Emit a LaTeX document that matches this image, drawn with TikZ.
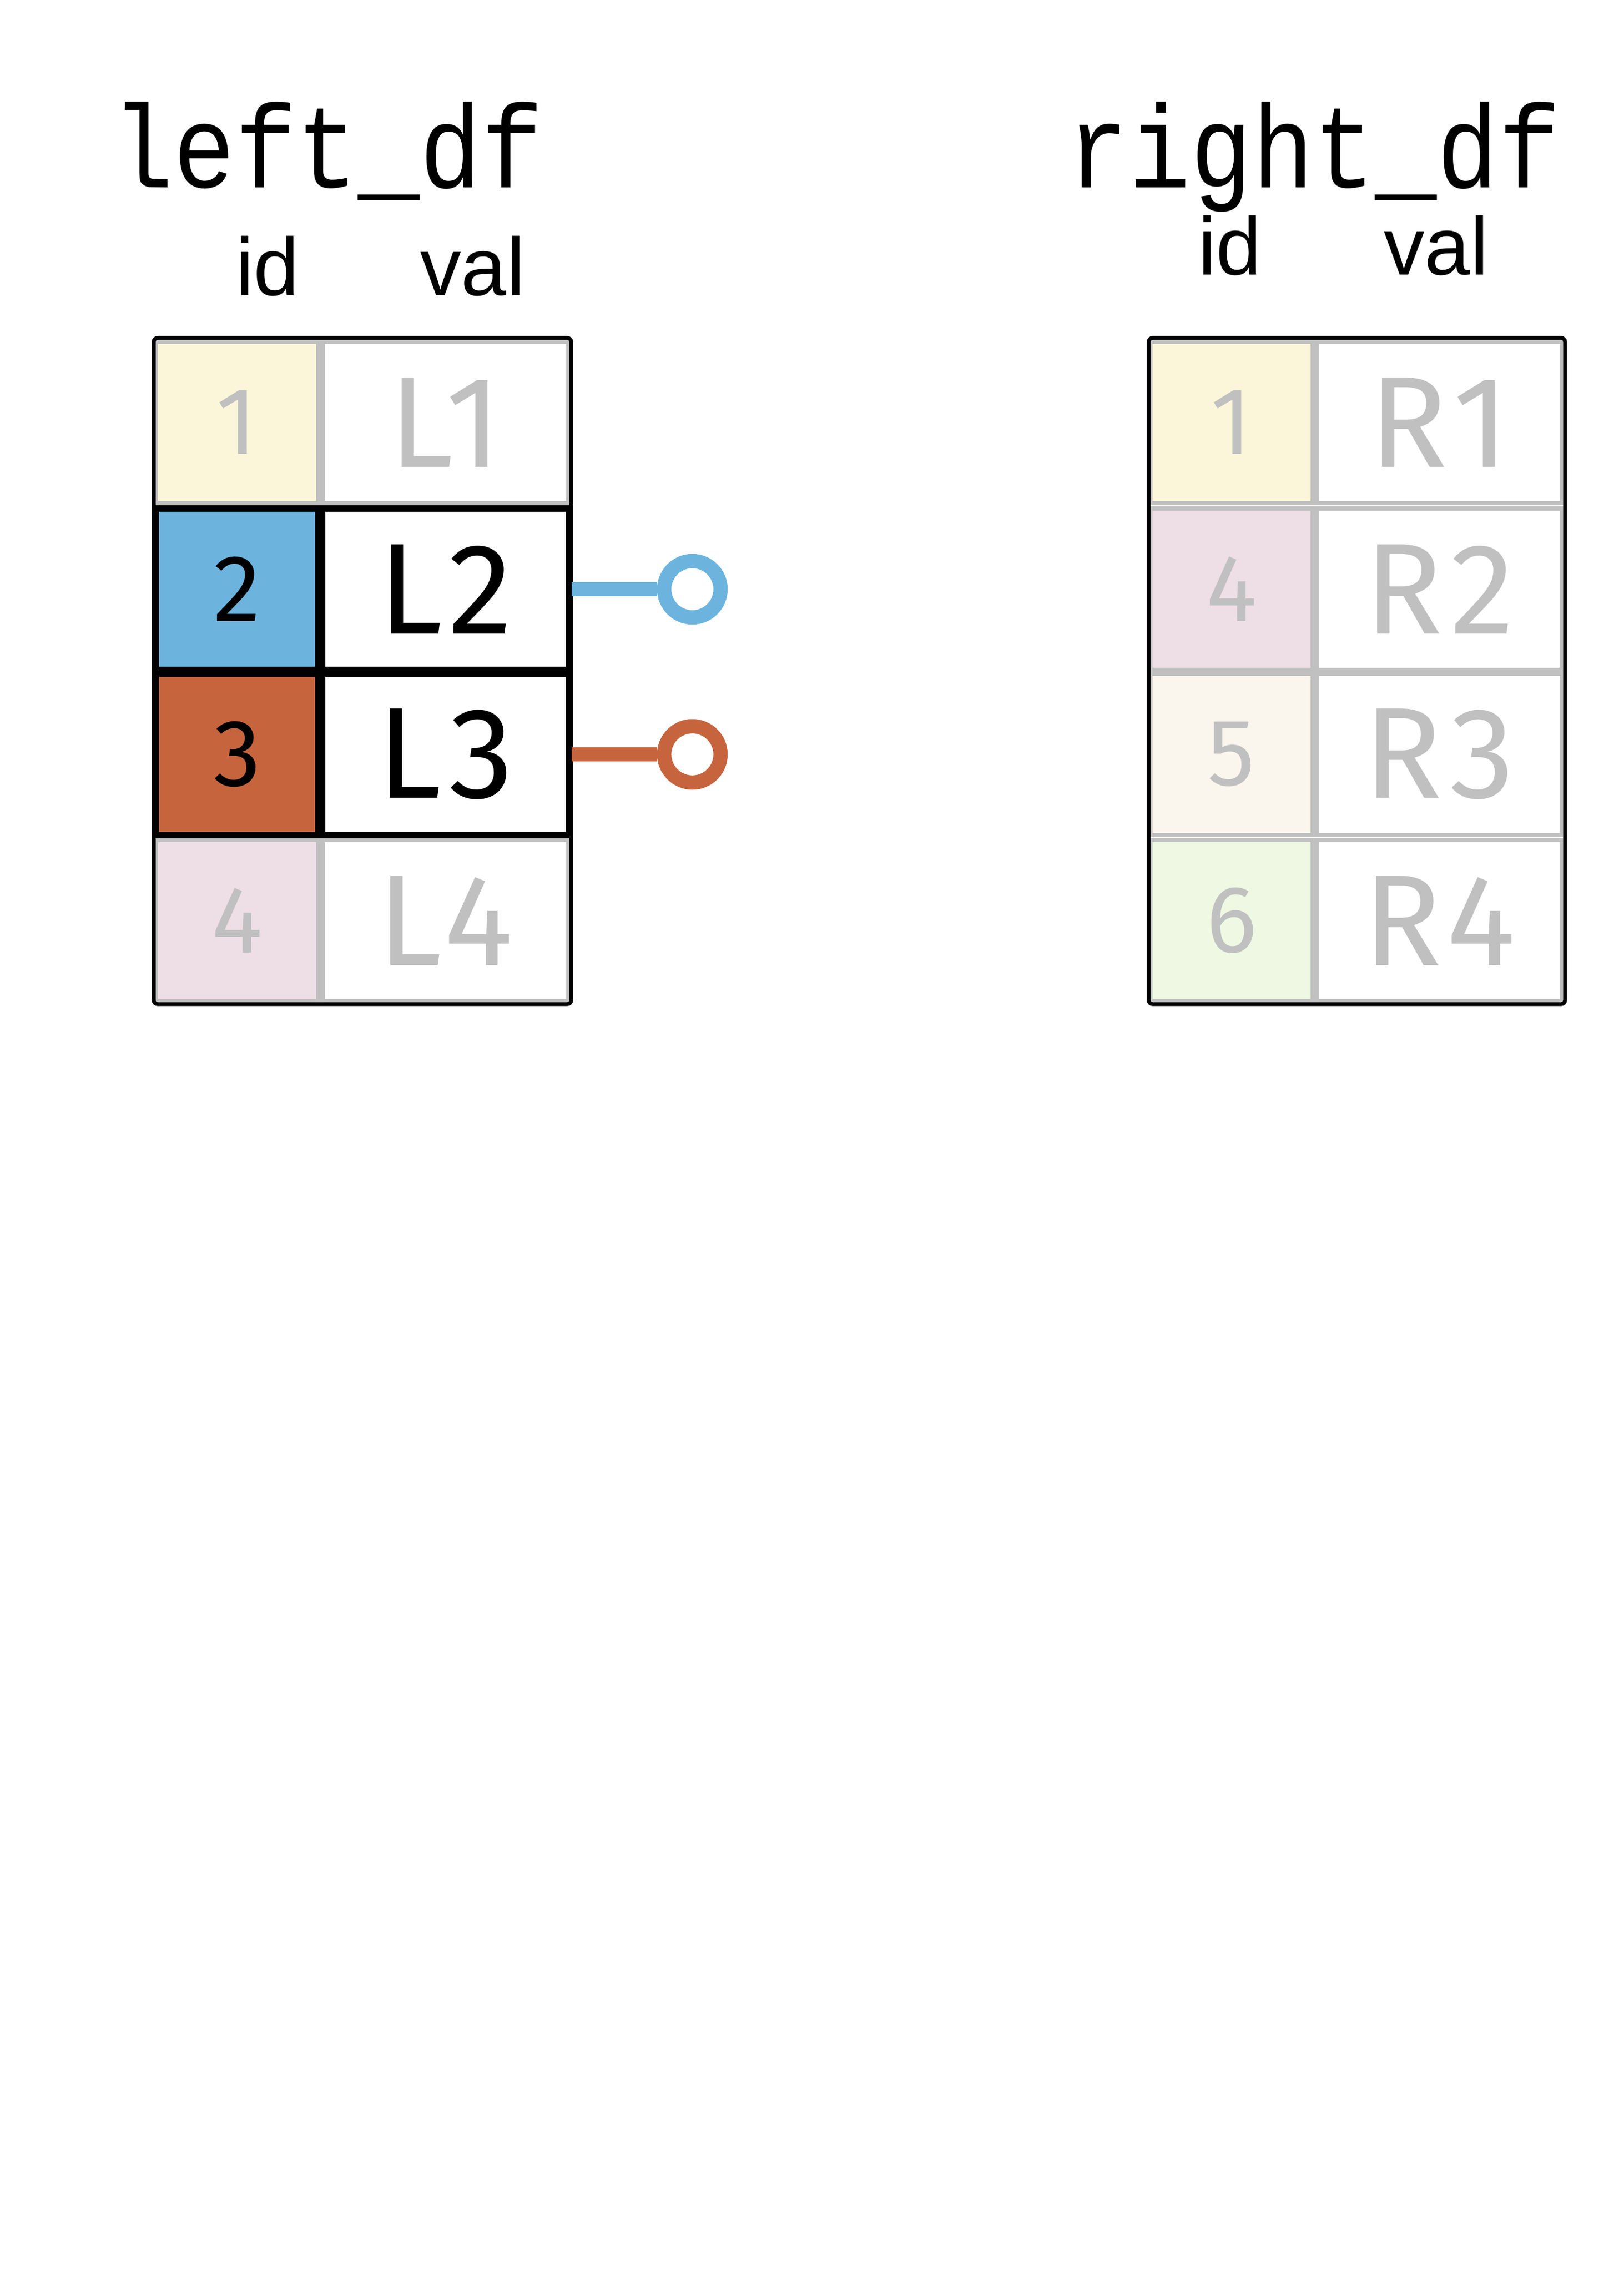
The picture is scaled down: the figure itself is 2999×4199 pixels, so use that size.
\documentclass[tikz,border=0pt]{standalone}
\usepackage{fontspec}
\setmainfont{Liberation Sans}
\newfontfamily\titlefont{Liberation Mono}
\newfontfamily\cellfont[LetterSpace=6]{Fira Sans}
\definecolor{gr}{HTML}{C0C0C0}
\definecolor{cyel}{HTML}{FBF6D9}
\definecolor{cpink}{HTML}{EEDEE6}
\definecolor{cblue}{HTML}{6CB4DE}
\definecolor{corange}{HTML}{C6653D}
\definecolor{ccream}{HTML}{FAF6EE}
\definecolor{cgreen}{HTML}{EEF8E2}
\tikzset{
  idcell/.style={draw=gr, line width=2.4pt, minimum width=3.0cm, minimum height=2.98cm, inner sep=0pt, font=\cellfont\fontsize{50}{50}\selectfont, text=gr},
  valcell/.style={draw=gr, line width=2.4pt, minimum width=4.55cm, minimum height=2.98cm, inner sep=0pt, font=\cellfont\fontsize{68}{68}\selectfont, text=gr},
  hl/.style={draw=black, line width=3.2pt, text=black},
  outer/.style={draw=black, line width=2pt, rounded corners=2pt},
  ttl/.style={font=\titlefont\fontsize{54}{54}\selectfont, anchor=base, yscale=1.15},
  hdr/.style={font=\fontsize{43}{43}\selectfont, anchor=base},
  conn/.style={line width=7.5pt},
  dot/.style={circle, line width=7.5pt, minimum size=1.04cm, inner sep=0pt, fill=white},
}
\begin{document}
\begin{tikzpicture}[x=0.01cm, y=-0.01cm]
\useasboundingbox (0,0) rectangle (2999,4199);
% titles
\node[ttl] (lt) at (605,346) {left\_df};
\node[ttl] (rt) at (2427,346) {right\_df};
\node[hdr] (lhid) at (494,545) {id};
\node[hdr] (lhval) at (873,545) {val};
\node[hdr] (rhid) at (2272,507) {id};
\node[hdr] (rhval) at (2653,507) {val};
% left table
\node[idcell, fill=cyel] (l1i) at (438,780) {1};
\node[valcell] (l1v) at (823,780) {L1};
\node[idcell, fill=cpink] (l4i) at (438,1700) {4};
\node[valcell] (l4v) at (823,1700) {L4};
\node[idcell, hl, fill=cblue] (l2i) at (438,1088) {2};
\node[valcell, hl] (l2v) at (823,1088) {L2};
\node[idcell, hl, fill=corange] (l3i) at (438,1393) {3};
\node[valcell, hl] (l3v) at (823,1393) {L3};
\draw[outer] (284,624) rectangle (1055,1854);
% right table
\node[idcell, fill=cyel] (r1i) at (2275,780) {1};
\node[valcell] (r1v) at (2659,780) {R1};
\node[idcell, fill=cpink] (r2i) at (2275,1088) {4};
\node[valcell] (r2v) at (2659,1088) {R2};
\node[idcell, fill=ccream] (r3i) at (2275,1393) {5};
\node[valcell] (r3v) at (2659,1393) {R3};
\node[idcell, fill=cgreen] (r4i) at (2275,1700) {6};
\node[valcell] (r4v) at (2659,1700) {R4};
\draw[outer] (2122,624) rectangle (2891,1854);
% connectors
\node[dot, draw=cblue] (d2) at (1279,1088) {};
\node[dot, draw=corange] (d3) at (1279,1393) {};
\draw[conn, cblue] (l2v.east) -- (d2.west);
\draw[conn, corange] (l3v.east) -- (d3.west);
\end{tikzpicture}
\end{document}
